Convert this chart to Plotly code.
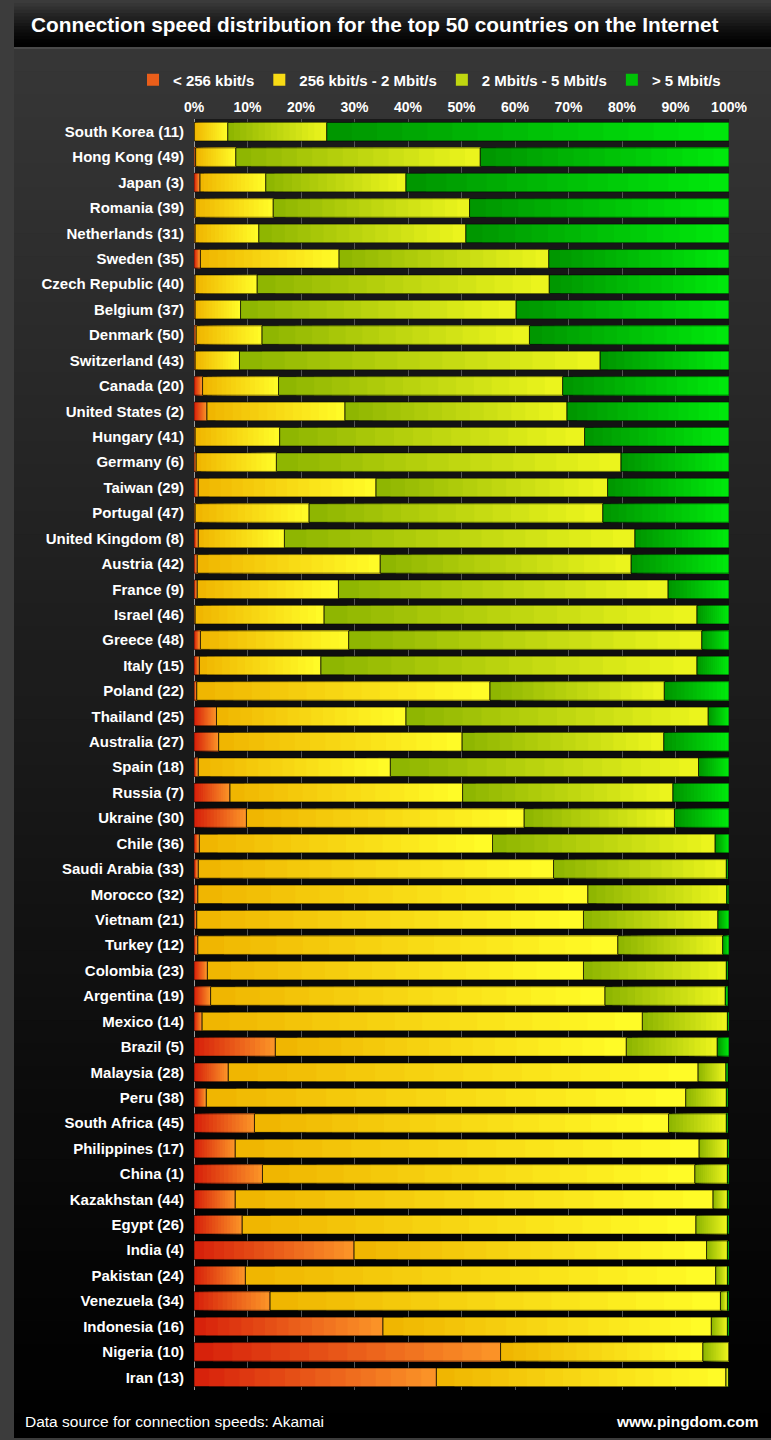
import plotly.graph_objects as go

# ---------------- data (percent of connections) ----------------
countries = [
    "South Korea (11)", "Hong Kong (49)", "Japan (3)", "Romania (39)", "Netherlands (31)",
    "Sweden (35)", "Czech Republic (40)", "Belgium (37)", "Denmark (50)", "Switzerland (43)",
    "Canada (20)", "United States (2)", "Hungary (41)", "Germany (6)", "Taiwan (29)",
    "Portugal (47)", "United Kingdom (8)", "Austria (42)", "France (9)", "Israel (46)",
    "Greece (48)", "Italy (15)", "Poland (22)", "Thailand (25)", "Australia (27)",
    "Spain (18)", "Russia (7)", "Ukraine (30)", "Chile (36)", "Saudi Arabia (33)",
    "Morocco (32)", "Vietnam (21)", "Turkey (12)", "Colombia (23)", "Argentina (19)",
    "Mexico (14)", "Brazil (5)", "Malaysia (28)", "Peru (38)", "South Africa (45)",
    "Philippines (17)", "China (1)", "Kazakhstan (44)", "Egypt (26)", "India (4)",
    "Pakistan (24)", "Venezuela (34)", "Indonesia (16)", "Nigeria (10)", "Iran (13)",
]
below_256k = [
    0.0, 0.3, 1.1, 0.2, 0.2, 1.2, 0.2, 0.2, 0.4, 0.2,
    1.6, 2.4, 0.2, 0.4, 0.8, 0.2, 0.8, 0.6, 0.6, 0.2,
    1.2, 1.0, 0.5, 4.2, 4.6, 0.8, 6.7, 9.8, 1.0, 0.8,
    0.7, 0.5, 0.7, 2.5, 3.1, 1.5, 15.2, 6.4, 2.3, 11.3,
    7.7, 12.8, 7.7, 9.0, 29.9, 9.6, 14.2, 35.3, 57.3, 45.3,
]
k256_to_2m = [
    6.3, 7.5, 12.3, 14.6, 11.9, 25.9, 11.6, 8.5, 12.3, 8.3,
    14.2, 25.8, 15.8, 15.0, 33.2, 21.3, 16.1, 34.2, 26.4, 24.1,
    27.7, 22.7, 54.8, 35.4, 45.5, 35.9, 43.5, 51.9, 54.8, 66.4,
    72.9, 72.3, 78.5, 70.3, 73.7, 82.3, 65.6, 87.8, 89.6, 77.4,
    86.7, 80.8, 89.3, 84.8, 65.9, 87.9, 84.2, 61.4, 37.8, 54.1,
]
m2_to_5m = [
    18.5, 45.7, 26.2, 36.7, 38.7, 39.2, 54.6, 51.5, 50.0, 67.4,
    53.1, 41.5, 57.0, 64.4, 43.3, 54.9, 65.5, 46.9, 61.6, 69.7,
    66.0, 70.3, 32.6, 56.5, 37.7, 57.6, 39.3, 28.1, 41.6, 32.3,
    26.0, 25.1, 19.6, 26.7, 22.5, 15.9, 17.0, 5.2, 7.6, 10.8,
    5.3, 6.1, 2.7, 5.9, 3.9, 2.2, 1.3, 3.0, 4.9, 0.5,
]
above_5m = [
    75.2, 46.5, 60.4, 48.5, 49.2, 33.7, 33.6, 39.8, 37.3, 24.1,
    31.1, 30.3, 27.0, 20.2, 22.7, 23.6, 17.6, 18.3, 11.4, 6.0,
    5.1, 6.0, 12.1, 3.9, 12.2, 5.7, 10.5, 10.2, 2.6, 0.3,
    0.3, 2.1, 1.2, 0.3, 0.5, 0.3, 2.2, 0.4, 0.3, 0.3,
    0.3, 0.3, 0.3, 0.3, 0.3, 0.3, 0.3, 0.3, 0.0, 0.1,
]
series_names = ["< 256 kbit/s", "256 kbit/s - 2 Mbit/s", "2 Mbit/s - 5 Mbit/s", "> 5 Mbit/s"]
tick_values = [0, 10, 20, 30, 40, 50, 60, 70, 80, 90, 100]
tick_labels = ["0%", "10%", "20%", "30%", "40%", "50%", "60%", "70%", "80%", "90%", "100%"]

# ---------------- style ----------------
FONT = "Liberation Sans, Arial, Helvetica, sans-serif"
gradients = [
    ((214, 30, 10), (252, 150, 40)),
    ((240, 180, 0), (255, 253, 40)),
    ((140, 180, 0), (238, 246, 30)),
    ((0, 148, 0), (0, 234, 12)),
]
STEPS = 16

W, H = 771, 1440
L, R, T, B = 194, 729, 119, 1390


def px_x(px):
    return (px - L) / (R - L)


def px_y(py):
    return (B - py) / (B - T)


def mix(c0, c1, t):
    return "rgb(%d,%d,%d)" % tuple(round(a + (b - a) * t) for a, b in zip(c0, c1))


fig = go.Figure()
series_values = [below_256k, k256_to_2m, m2_to_5m, above_5m]
starts = [0.0] * len(countries)
segment_bases = []
for s, (name, vals) in enumerate(zip(series_names, series_values)):
    c0, c1 = gradients[s]
    segment_bases.append(list(starts))
    for k in range(STEPS):
        t = (k + 0.5) / STEPS
        fig.add_trace(go.Bar(
            y=countries,
            x=[v * (STEPS - k) / STEPS for v in vals],
            base=[st + v * k / STEPS for st, v in zip(starts, vals)],
            orientation="h",
            marker=dict(color=mix(c0, c1, t), line=dict(width=0)),
            name=name,
            legendgroup=name,
            showlegend=(k == STEPS // 2),
            legendrank=s + 1,
            hoverinfo="skip",
        ))
    starts = [st + v for st, v in zip(starts, vals)]

for s, (name, vals) in enumerate(zip(series_names, series_values)):
    fig.add_trace(go.Bar(
        y=countries,
        x=vals,
        base=segment_bases[s],
        orientation="h",
        marker=dict(color="rgba(0,0,0,0)", line=dict(color="rgba(0,0,0,0.55)", width=1)),
        name=name,
        legendgroup=name,
        showlegend=False,
        hovertemplate="%{y}<br>" + name + ": %{x:.1f}%<extra></extra>",
    ))

# ---------------- background decoration ----------------
shapes = []
p_top, p_bot = 48, 1437
bands = 60
for i in range(bands):
    y0 = p_top + (p_bot - p_top) * i / bands
    y1 = p_top + (p_bot - p_top) * (i + 1) / bands + 1
    g = round(54 * (1 - (i + 0.5) / bands) ** 1.1)
    shapes.append(dict(type="rect", xref="paper", yref="paper", layer="below",
                       x0=px_x(14), x1=px_x(W + 2), y0=px_y(y1), y1=px_y(y0),
                       fillcolor="rgb(%d,%d,%d)" % (g, g, g), line=dict(width=0)))
tb = 14
for i in range(tb):
    y0 = 46 * i / tb - (2 if i == 0 else 0)
    y1 = 46 * (i + 1) / tb + 1
    g = round(62 * (1 - (i + 0.5) / tb) ** 1.3)
    shapes.append(dict(type="rect", xref="paper", yref="paper", layer="below",
                       x0=px_x(14), x1=px_x(W + 2), y0=px_y(y1), y1=px_y(y0),
                       fillcolor="rgb(%d,%d,%d)" % (g, g, g), line=dict(width=0)))
shapes.append(dict(type="rect", xref="paper", yref="paper", layer="below",
                   x0=px_x(14), x1=px_x(W + 2), y0=px_y(49), y1=px_y(47),
                   fillcolor="#4a4a4a", line=dict(width=0)))
shapes.append(dict(type="rect", xref="paper", yref="paper", layer="below",
                   x0=0, x1=1, y0=0, y1=1,
                   fillcolor="rgba(0,0,0,0.5)", line=dict(width=0)))

annotations = [
    dict(text="Connection speed distribution for the top 50 countries on the Internet",
         xref="paper", yref="paper", x=px_x(29), y=px_y(25), xanchor="left", yanchor="middle",
         showarrow=False, font=dict(family=FONT, size=20.8, color="white", weight="bold")),
    dict(text="Data source for connection speeds: Akamai",
         xref="paper", yref="paper", x=px_x(23), y=px_y(1421), xanchor="left", yanchor="middle",
         showarrow=False, font=dict(family=FONT, size=15.5, color="white")),
    dict(text="www.pingdom.com",
         xref="paper", yref="paper", x=px_x(761), y=px_y(1421), xanchor="right", yanchor="middle",
         showarrow=False, font=dict(family=FONT, size=15.5, color="white", weight="bold")),
]

fig.update_layout(
    width=W, height=H,
    margin=dict(l=L, r=W - R, t=T, b=H - B, pad=0),
    paper_bgcolor="#3c3c3c",
    plot_bgcolor="rgba(0,0,0,0)",
    barmode="overlay",
    bargap=0.27,
    showlegend=True,
    legend=dict(orientation="h", xref="paper", yref="paper",
                x=px_x(133), xanchor="left", y=px_y(80), yanchor="middle",
                font=dict(family=FONT, size=15, color="white", weight="bold"),
                bgcolor="rgba(0,0,0,0)", itemwidth=30, traceorder="normal",
                itemclick=False, itemdoubleclick=False),
    shapes=shapes,
    annotations=annotations,
    xaxis=dict(range=[0, 100], side="top", tickmode="array", tickvals=tick_values,
               ticktext=tick_labels, ticks="", ticklabelstandoff=3,
               tickfont=dict(family=FONT, size=14, color="white", weight="bold"),
               showgrid=True, gridcolor="#555555", gridwidth=1,
               zeroline=True, zerolinecolor="#9a9a9a", zerolinewidth=1,
               showline=False, fixedrange=True),
    yaxis=dict(type="category", categoryorder="array", categoryarray=countries,
               autorange="reversed", ticks="", ticklabelstandoff=9,
               tickfont=dict(family=FONT, size=15, color="white", weight="bold"),
               showgrid=False, zeroline=False, showline=False, fixedrange=True),
)

fig.write_html(
    "out.html",
    config={"displayModeBar": False},
    post_script="document.body.style.margin='0px';document.body.style.padding='0px';"
                "document.body.style.overflow='hidden';",
)
